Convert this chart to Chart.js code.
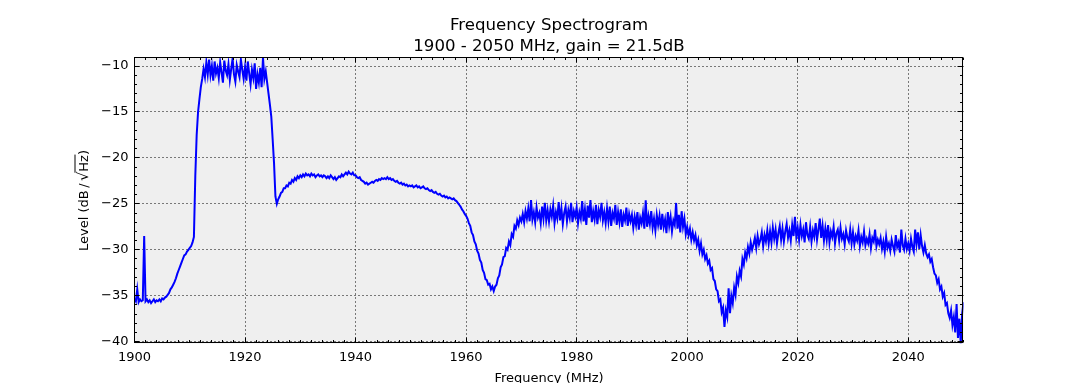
<!DOCTYPE html>
<html>
<head>
<meta charset="utf-8">
<script src="https://cdn.jsdelivr.net/npm/chart.js@4.4.1/dist/chart.umd.min.js"></script>
<style>
html,body{margin:0;padding:0;background:#fff;}
#wrap{position:relative;width:1069px;height:383px;}
</style>
</head>
<body>
<div id="wrap"><canvas id="c" width="1069" height="383"></canvas></div>
<script>
// ---- data ----
const freqStart = 1900;   // MHz, first sample
const freqStep = 0.25;    // MHz between samples
const levels = [
// 1900
-35.3,-35.6,-34.3,-35.7,-35.4,-35.6,-35.5,-28.5,-35.6,-35.4,-35.7,-35.5,-35.8,-35.6,-35.4,-35.7,-35.5,-35.6,-35.4,-35.6,
// 1905
-35.3,-35.4,-35.2,-35.1,-34.9,-34.7,-34.3,-34.1,-33.8,-33.5,-33.1,-32.6,-32.2,-31.8,-31.4,-31.0,-30.6,-30.5,-30.2,-30.0,
// 1910
-29.8,-29.6,-29.2,-28.6,-22.0,-17.5,-15.0,-13.6,-12.3,-11.4,-10.3,-11.2,-9.6,-10.9,-9.3,-11.0,-10.0,-11.6,-9.5,-10.8,
// 1915
-10.2,-11.3,-9.6,-10.7,-11.8,-9.4,-10.5,-11.0,-9.8,-11.5,-10.3,-9.2,-10.9,-11.7,-9.9,-10.6,-11.2,-9.3,-10.4,-11.4,
// 1920
-10.1,-11.6,-9.5,-10.8,-12.0,-10.4,-11.3,-9.7,-12.5,-10.9,-11.8,-10.2,-12.3,-9.1,-11.4,-10.6,-11.8,-13.0,-14.2,-15.5,
// 1925
-18.0,-20.6,-24.2,-25.0,-24.5,-24.2,-23.8,-23.7,-23.3,-23.3,-23.0,-23.1,-22.7,-22.8,-22.4,-22.6,-22.2,-22.4,-22.0,-22.2,
// 1930
-21.9,-22.1,-21.8,-22.0,-21.7,-21.9,-21.8,-22.0,-21.7,-21.9,-21.8,-22.1,-21.9,-21.8,-22.0,-21.9,-22.1,-21.9,-22.0,-22.2,
// 1935
-22.0,-22.2,-21.9,-22.1,-22.3,-22.1,-22.4,-22.2,-22.0,-22.1,-21.8,-22.0,-21.8,-21.6,-21.8,-21.5,-21.7,-21.8,-21.6,-21.9,
// 1940
-21.9,-22.1,-22.2,-22.1,-22.4,-22.5,-22.6,-22.8,-22.7,-22.9,-22.8,-22.7,-22.6,-22.7,-22.5,-22.4,-22.5,-22.3,-22.4,-22.2,
// 1945
-22.3,-22.2,-22.3,-22.1,-22.3,-22.2,-22.4,-22.3,-22.5,-22.6,-22.5,-22.7,-22.8,-22.7,-22.9,-22.8,-23.0,-22.9,-23.1,-23.0,
// 1950
-23.1,-23.0,-23.2,-23.1,-23.0,-23.2,-23.1,-23.3,-23.2,-23.1,-23.3,-23.4,-23.3,-23.5,-23.6,-23.5,-23.7,-23.8,-23.7,-23.9,
// 1955
-24.0,-23.9,-24.1,-24.2,-24.1,-24.3,-24.2,-24.4,-24.3,-24.4,-24.5,-24.4,-24.6,-24.7,-24.9,-25.1,-25.3,-25.6,-25.8,-26.1,
// 1960
-26.3,-26.6,-27.1,-27.4,-28.1,-28.4,-29.1,-29.4,-30.1,-30.4,-31.1,-31.4,-32.2,-32.5,-33.2,-33.3,-33.8,-33.7,-34.3,-34.0,
// 1965
-34.5,-34.0,-33.8,-33.1,-32.8,-31.9,-31.6,-30.8,-30.7,-29.8,-30.0,-29.1,-29.5,-28.3,-28.6,-27.4,-27.7,-26.8,-27.3,-26.5,
// 1970
-26.9,-26.1,-27.0,-25.8,-26.6,-25.5,-26.9,-24.6,-26.7,-25.9,-27.0,-25.4,-26.5,-26.0,-27.1,-25.3,-26.6,-24.9,-26.8,-25.7,
// 1975
-26.9,-25.6,-26.4,-25.2,-27.1,-25.9,-26.6,-24.8,-26.8,-25.5,-27.2,-26.0,-25.3,-26.9,-25.7,-26.5,-24.9,-27.0,-25.8,-26.4,
// 1980
-25.4,-27.1,-25.9,-26.6,-24.7,-26.9,-25.6,-27.3,-25.2,-26.5,-24.6,-27.0,-25.8,-26.7,-25.1,-27.2,-25.7,-26.4,-24.9,-26.8,
// 1985
-25.9,-27.1,-25.5,-26.9,-25.3,-27.4,-26.0,-26.6,-25.1,-27.3,-25.9,-27.0,-25.6,-27.5,-26.2,-26.8,-25.4,-27.4,-26.1,-26.9,
// 1990
-26.2,-27.6,-26.4,-27.3,-25.9,-27.8,-26.5,-27.1,-26.0,-27.7,-24.6,-27.5,-26.3,-27.2,-25.8,-27.6,-26.6,-27.9,-26.2,-27.3,
// 1995
-26.3,-27.8,-26.1,-27.5,-26.7,-28.2,-25.9,-27.4,-26.4,-28.0,-26.8,-27.3,-24.9,-27.7,-26.2,-28.1,-25.8,-27.5,-26.6,-28.3,
// 2000
-27.5,-28.4,-27.7,-28.9,-28.1,-29.0,-28.4,-29.5,-28.9,-30.1,-29.3,-30.5,-30.0,-31.0,-30.6,-31.5,-31.2,-32.2,-32.0,-33.2,
// 2005
-33.4,-34.3,-34.5,-35.6,-35.4,-36.8,-36.3,-38.4,-36.6,-37.3,-34.2,-36.9,-35.0,-35.8,-34.1,-34.9,-32.9,-33.6,-32.3,-32.9,
// 2010
-31.0,-31.6,-30.3,-30.9,-29.7,-30.4,-29.2,-30.0,-29.4,-28.7,-29.8,-28.5,-29.4,-28.9,-28.1,-29.6,-28.4,-29.1,-27.9,-29.3,
// 2015
-28.0,-29.2,-27.6,-28.8,-27.8,-29.3,-28.2,-27.4,-28.9,-27.7,-29.1,-28.0,-27.2,-28.7,-27.9,-29.0,-27.3,-28.5,-26.4,-28.6,
// 2020
-27.6,-28.9,-27.3,-28.5,-27.8,-29.2,-27.0,-28.4,-28.8,-27.5,-29.1,-27.9,-28.6,-27.1,-28.9,-27.8,-26.6,-28.7,-27.4,-29.0,
// 2025
-27.7,-28.9,-27.3,-29.2,-28.0,-28.6,-27.5,-29.3,-28.2,-27.8,-29.0,-27.6,-28.8,-28.3,-29.4,-27.9,-28.7,-29.1,-27.8,-29.3,
// 2030
-28.1,-29.4,-28.5,-29.0,-27.9,-29.6,-28.6,-29.2,-28.0,-29.5,-28.8,-29.3,-28.3,-29.8,-28.7,-29.1,-27.8,-29.6,-28.9,-29.4,
// 2035
-28.7,-29.9,-29.1,-30.2,-28.6,-29.8,-29.3,-30.1,-28.9,-29.6,-30.2,-28.4,-29.7,-29.2,-30.3,-27.8,-29.5,-30.0,-28.8,-29.9,
// 2040
-29.3,-30.1,-28.8,-29.7,-30.2,-27.8,-29.4,-28.1,-29.9,-28.4,-29.6,-30.3,-29.5,-30.4,-30.8,-30.5,-31.3,-31.0,-31.9,-32.6,
// 2045
-32.8,-33.6,-33.2,-34.3,-34.0,-35.1,-34.7,-36.0,-35.8,-36.9,-37.4,-36.6,-38.2,-37.3,-39.0,-35.9,-39.6,-37.5,-40.2,-37.0,
// 2050
-35.7
];
const xTickLabels = [1900, 1920, 1940, 1960, 1980, 2000, 2020, 2040];
const yTickLabels = [-40, -35, -30, -25, -20, -15, -10];
const xMinorStep = 2;   // MHz
const yMinorStep = 1;   // dB
const titleLines = ['Frequency Spectrogram', '1900 - 2050 MHz, gain = 21.5dB'];
const xAxisTitle = 'Frequency (MHz)';
const yAxisTitleParts = ['Level (dB', '/', '\u221A', 'Hz', ')'];

// ---- chart ----
const FONT = '"DejaVu Sans", "Liberation Sans", sans-serif';
const points = levels.map((v, i) => ({ x: freqStart + i * freqStep, y: v }));

const decor = {
  id: 'decor',
  beforeDraw(c) {
    const { ctx, chartArea: a } = c;
    ctx.save();
    ctx.fillStyle = '#ffffff';
    ctx.fillRect(0, 0, c.width, c.height);
    ctx.fillStyle = '#efefef';
    ctx.fillRect(a.left, a.top, a.right - a.left, a.bottom - a.top);
    ctx.restore();
  },
  beforeDatasetsDraw(c) {
    const { ctx, chartArea: a, scales: { x, y } } = c;
    ctx.save();
    ctx.strokeStyle = '#000';
    ctx.lineWidth = 1;
    ctx.setLineDash([1, 3]);
    xTickLabels.forEach(v => {
      const px = Math.floor(x.getPixelForValue(v)) + 0.5;
      ctx.beginPath(); ctx.moveTo(px, a.top); ctx.lineTo(px, a.bottom); ctx.stroke();
    });
    yTickLabels.forEach(v => {
      const py = Math.floor(y.getPixelForValue(v)) + 0.5;
      ctx.beginPath(); ctx.moveTo(a.left, py); ctx.lineTo(a.right, py); ctx.stroke();
    });
    ctx.restore();
  },
  afterDatasetsDraw(c) {
    const { ctx, chartArea: a, scales: { x, y } } = c;
    ctx.save();
    ctx.strokeStyle = '#000';
    ctx.lineWidth = 1;
    ctx.setLineDash([]);
    const L = Math.floor(a.left) + 0.5, R = Math.floor(a.right) - 0.5;
    const T = Math.floor(a.top) + 0.5, B = Math.floor(a.bottom) - 0.5;
    for (let v = x.min; v <= x.max + 1e-9; v += xMinorStep) {
      const major = xTickLabels.includes(v);
      const len = major ? 5 : 2.5;
      const px = Math.floor(x.getPixelForValue(v)) + 0.5;
      ctx.beginPath();
      ctx.moveTo(px, B); ctx.lineTo(px, B - len);
      ctx.moveTo(px, T); ctx.lineTo(px, T + len);
      ctx.stroke();
    }
    for (let v = Math.ceil(y.min); v <= y.max + 1e-9; v += yMinorStep) {
      const major = yTickLabels.includes(v);
      const len = major ? 5 : 2.5;
      const py = Math.floor(y.getPixelForValue(v)) + 0.5;
      ctx.beginPath();
      ctx.moveTo(L, py); ctx.lineTo(L + len, py);
      ctx.moveTo(R, py); ctx.lineTo(R - len, py);
      ctx.stroke();
    }
    ctx.strokeRect(L, T, R - L, B - T);
    ctx.restore();
  },
  afterDraw(c) {
    const { ctx, chartArea: a } = c;
    const cx = (a.left + a.right) / 2;
    ctx.save();
    ctx.fillStyle = '#000';
    ctx.textAlign = 'center';
    ctx.textBaseline = 'alphabetic';
    ctx.font = '16.6px ' + FONT;
    ctx.fillText(titleLines[0], cx, 30);
    ctx.fillText(titleLines[1], cx, 51);
    ctx.font = '13px ' + FONT;
    ctx.fillText(xAxisTitle, cx, 382);
    // y title, rotated, drawn in pieces (mathtext-like spacing)
    ctx.translate(87.5, (a.top + a.bottom) / 2);
    ctx.rotate(-Math.PI / 2);
    ctx.textAlign = 'left';
    const fonts = ['13px ', '13px ', '14.5px ', '13px ', '13px '];
    const gaps = [2.5, 2.5, 0, 0, 0];
    let total = 0;
    const widths = yAxisTitleParts.map((t, i) => {
      ctx.font = fonts[i] + FONT;
      const w = ctx.measureText(t).width;
      total += w + gaps[i];
      return w;
    });
    let px = -total / 2;
    let hzStart = 0, hzEnd = 0;
    yAxisTitleParts.forEach((t, i) => {
      ctx.font = fonts[i] + FONT;
      ctx.fillText(t, px, 0);
      if (i === 3) { hzStart = px; hzEnd = px + widths[i]; }
      px += widths[i] + gaps[i];
    });
    ctx.strokeStyle = '#000';
    ctx.lineWidth = 1;
    ctx.beginPath();
    ctx.moveTo(hzStart - 1, -12.5);
    ctx.lineTo(hzEnd + 0.5, -12.5);
    ctx.stroke();
    ctx.restore();
  }
};

new Chart(document.getElementById('c'), {
  type: 'line',
  data: {
    datasets: [{
      data: points,
      borderColor: '#0000ff',
      borderWidth: 2,
      pointRadius: 0,
      tension: 0,
      fill: false
    }]
  },
  options: {
    responsive: false,
    animation: false,
    events: [],
    layout: { padding: { left: 0, right: 105.5, top: 57.5, bottom: 0 } },
    plugins: { legend: { display: false }, title: { display: false }, tooltip: { enabled: false } },
    scales: {
      x: {
        type: 'linear',
        min: 1900, max: 2050,
        grid: { display: false, drawTicks: false },
        border: { display: false },
        afterBuildTicks: s => { s.ticks = xTickLabels.map(v => ({ value: v })); },
        afterFit: s => { s.height = 39.5; },
        ticks: {
          color: '#000', padding: 6,
          font: { family: FONT, size: 13 },
          maxRotation: 0, autoSkip: false,
          callback: v => String(v)
        }
      },
      y: {
        type: 'linear',
        min: -40.2, max: -9.07,
        grid: { display: false, drawTicks: false },
        border: { display: false },
        afterBuildTicks: s => { s.ticks = yTickLabels.map(v => ({ value: v })); },
        afterFit: s => { s.width = 134.5; },
        ticks: {
          color: '#000', padding: 6,
          font: { family: FONT, size: 13 },
          autoSkip: false,
          callback: v => String(v).replace('-', '\u2212')
        }
      }
    }
  },
  plugins: [decor]
});
</script>
</body>
</html>
